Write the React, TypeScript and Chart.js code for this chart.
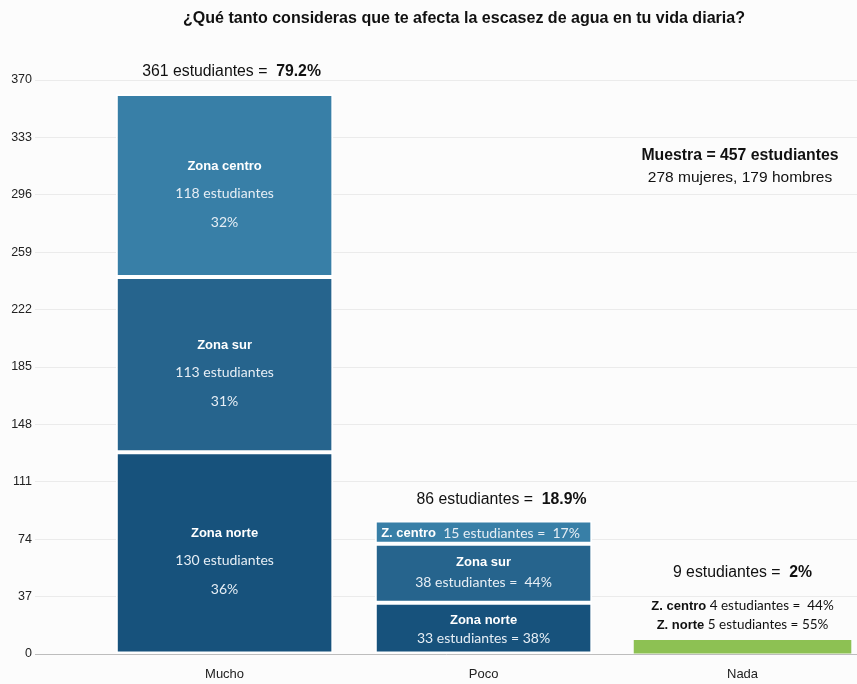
import React, { useEffect, useRef } from "react";
import { Chart, registerables } from "chart.js";
Chart.register(...registerables);

const categories = ["Mucho", "Poco", "Nada"];
const categoryPositions = [0, 1, 2];
const zonaNorte = [130, 33, null];
const zonaSur = [113, 38, null];
const zonaCentro = [118, 15, null];
const nada = [null, null, 9];
const totals = [361, 86, 9];
const totalPct = ["79.2%", "18.9%", "2%"];
const muchoPct = { centro: "32%", sur: "31%", norte: "36%" };
const pocoPct = { centro: "17%", sur: "44%", norte: "38%" };
const nadaCentro = { n: 4, pct: "44%" };
const nadaNorte = { n: 5, pct: "55%" };
const muestra = 457;
const mujeres = 278;
const hombres = 179;
const yStep = 37;
const yMax = 370;

const TITLE = "¿Qué tanto consideras que te afecta la escasez de agua en tu vida diaria?";

const SANS = '"Liberation Sans", Arial, Helvetica, sans-serif';
const OPEN = 'Lato, "Open Sans", sans-serif';

type Run = { t: string; f: string; c?: string };

function drawRuns(ctx: CanvasRenderingContext2D, runs: Run[], cx: number, cy: number, color: string) {
  ctx.textBaseline = "middle";
  ctx.textAlign = "left";
  let w = 0;
  runs.forEach((r) => {
    ctx.font = r.f;
    w += ctx.measureText(r.t).width;
  });
  let x = cx - w / 2;
  runs.forEach((r) => {
    ctx.font = r.f;
    ctx.fillStyle = r.c || color;
    ctx.fillText(r.t, x, cy);
    x += ctx.measureText(r.t).width;
  });
}

function drawFitted(ctx: CanvasRenderingContext2D, text: string, font: string, cx: number, cy: number, width: number, color: string) {
  ctx.save();
  ctx.font = font;
  const w = ctx.measureText(text).width;
  ctx.translate(cx, cy);
  ctx.scale(width / w, 1);
  ctx.textAlign = "center";
  ctx.textBaseline = "middle";
  ctx.fillStyle = color;
  ctx.fillText(text, 0, 0);
  ctx.restore();
}

const annotations = {
  id: "annotations",
  beforeDraw(chart: any) {
    const ctx = chart.ctx;
    ctx.save();
    ctx.fillStyle = "#fcfcfc";
    ctx.fillRect(0, 0, chart.width, chart.height);
    ctx.restore();
  },
  afterDatasetsDraw(chart: any) {
    const ctx: CanvasRenderingContext2D = chart.ctx;
    ctx.save();
    const seg = (ds: number, i: number) => {
      const el: any = chart.getDatasetMeta(ds).data[i];
      return { x: el.x, top: el.y, bottom: el.base, mid: (el.y + el.base) / 2 };
    };
    const white = "#ffffff";
    const soft = "#e6eef5";
    const b13 = `bold 13px ${SANS}`;
    const o13 = `14px ${OPEN}`;
    const big = `15.8px ${SANS}`;
    const bigB = `bold 15.8px ${SANS}`;

    // Title
    drawFitted(ctx, TITLE, `bold 17px ${SANS}`, 464, 18, 562, "#111");

    // Mucho
    const mN = seg(0, 0), mS = seg(1, 0), mC = seg(2, 0);
    const inner = (s: any, title: string, n: number, pct: string) => {
      drawRuns(ctx, [{ t: title, f: b13 }], s.x, s.mid - 19, white);
      drawRuns(ctx, [{ t: `${n} estudiantes`, f: o13 }], s.x, s.mid + 8, soft);
      drawRuns(ctx, [{ t: pct, f: o13 }], s.x, s.mid + 37, soft);
    };
    inner(mC, "Zona centro", zonaCentro[0] as number, muchoPct.centro);
    inner(mS, "Zona sur", zonaSur[0] as number, muchoPct.sur);
    inner(mN, "Zona norte", zonaNorte[0] as number, muchoPct.norte);
    drawRuns(
      ctx,
      [
        { t: `${totals[0]} estudiantes =  `, f: big },
        { t: totalPct[0], f: bigB },
      ],
      mC.x + 7,
      mC.top - 22,
      "#111"
    );

    // Poco
    const pN = seg(0, 1), pS = seg(1, 1), pC = seg(2, 1);
    drawRuns(
      ctx,
      [
        { t: "Z. centro", f: b13, c: white },
        { t: `  ${zonaCentro[1]} estudiantes =  ${pocoPct.centro}`, f: o13, c: soft },
      ],
      pC.x - 3,
      pC.mid + 1,
      white
    );
    drawRuns(ctx, [{ t: "Zona sur", f: b13 }], pS.x, pS.mid - 11, white);
    drawRuns(ctx, [{ t: `${zonaSur[1]} estudiantes =  ${pocoPct.sur}`, f: o13 }], pS.x, pS.mid + 9, soft);
    drawRuns(ctx, [{ t: "Zona norte", f: b13 }], pN.x, pN.mid - 8, white);
    drawRuns(ctx, [{ t: `${zonaNorte[1]} estudiantes = ${pocoPct.norte}`, f: o13 }], pN.x, pN.mid + 10, soft);
    drawRuns(
      ctx,
      [
        { t: `${totals[1]} estudiantes =  `, f: big },
        { t: totalPct[1], f: bigB },
      ],
      pC.x + 18,
      pC.top - 21,
      "#111"
    );

    // Nada
    const nd = seg(3, 2);
    drawRuns(
      ctx,
      [
        { t: `${totals[2]} estudiantes =  `, f: big },
        { t: totalPct[2], f: bigB },
      ],
      nd.x,
      nd.top - 67,
      "#111"
    );
    drawRuns(
      ctx,
      [
        { t: "Z. centro", f: b13 },
        { t: ` ${nadaCentro.n} estudiantes =  ${nadaCentro.pct}`, f: `13.5px ${OPEN}` },
      ],
      nd.x,
      nd.top - 34,
      "#111"
    );
    drawRuns(
      ctx,
      [
        { t: "Z. norte", f: b13 },
        { t: ` ${nadaNorte.n} estudiantes = ${nadaNorte.pct}`, f: `13.5px ${OPEN}` },
      ],
      nd.x,
      nd.top - 15,
      "#111"
    );

    // Muestra
    drawRuns(ctx, [{ t: `Muestra = ${muestra} estudiantes`, f: `bold 15.8px ${SANS}` }], 740, 156, "#111");
    drawRuns(ctx, [{ t: `${mujeres} mujeres, ${hombres} hombres`, f: `15.5px ${SANS}` }], 740, 178, "#111");

    ctx.restore();
  },
};

export default function App() {
  const ref = useRef<HTMLCanvasElement>(null);
  useEffect(() => {
    if (!ref.current) return;
    const mk = (arr: (number | null)[]) => arr.map((v, i) => ({ x: categoryPositions[i], y: v }));
    const common = {
      borderColor: "#ffffff",
      borderWidth: 2,
      borderSkipped: false as const,
      barPercentage: 0.84,
      categoryPercentage: 1,
    };
    const chart = new Chart(ref.current, {
      type: "bar",
      data: {
        datasets: [
          { label: "Zona norte", data: mk(zonaNorte), backgroundColor: "#17527c", ...common },
          { label: "Zona sur", data: mk(zonaSur), backgroundColor: "#26648d", ...common },
          { label: "Zona centro", data: mk(zonaCentro), backgroundColor: "#387fa7", ...common },
          { label: "Nada", data: mk(nada), backgroundColor: "#8dc153", ...common, borderWidth: 0 },
        ],
      } as any,
      options: {
        animation: false,
        responsive: false,
        layout: { padding: { top: 80, right: 0, left: 0, bottom: 0 } },
        plugins: { legend: { display: false }, tooltip: { enabled: false }, title: { display: false } },
        scales: {
          x: {
            type: "linear",
            stacked: true,
            offset: false,
            min: -0.732,
            max: 2.442,
            grid: { display: false, drawTicks: false },
            border: { display: true, color: "#bdbdbd", width: 1 },
            afterBuildTicks: (s: any) => {
              s.ticks = categoryPositions.map((v) => ({ value: v }));
            },
            afterFit: (s: any) => {
              s.height = 30;
            },
            ticks: {
              autoSkip: false,
              maxRotation: 0,
              padding: 13,
              color: "#222",
              font: { family: SANS, size: 13 },
              callback: (v: any) => categories[categoryPositions.indexOf(Number(v))] ?? "",
            },
          },
          y: {
            stacked: true,
            min: 0,
            max: yMax,
            grid: { color: "#ebebeb", drawTicks: false },
            border: { display: false },
            afterFit: (s: any) => {
              s.width = 35;
            },
            ticks: {
              stepSize: yStep,
              padding: 3,
              color: "#222",
              font: { family: SANS, size: 12.5 },
            },
          },
        },
      },
      plugins: [annotations],
    });
    return () => chart.destroy();
  }, []);
  return (
    <div style={{ position: "fixed", left: 0, top: 0, width: 857, height: 684 }}>
      <canvas ref={ref} width={857} height={684} />
    </div>
  );
}
